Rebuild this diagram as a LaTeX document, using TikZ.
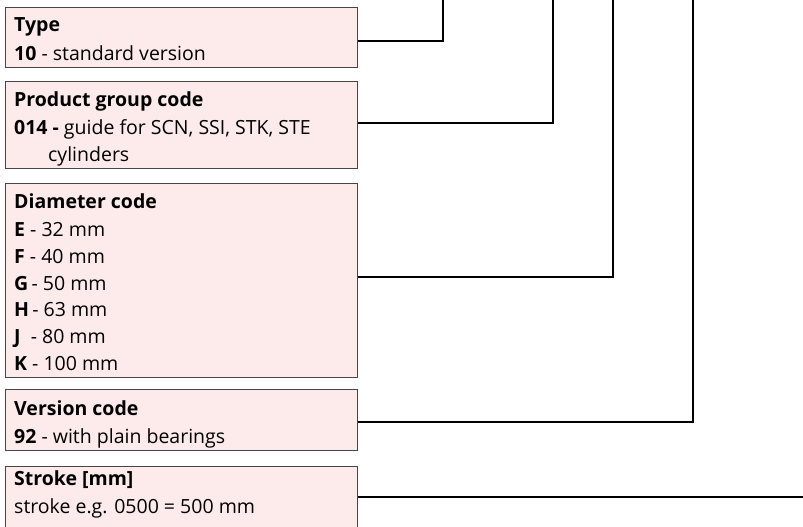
\documentclass[tikz,border=0pt]{standalone}
\usepackage{fontspec}
\setmainfont{Open Sans}
\definecolor{boxfill}{RGB}{253,234,234}
\definecolor{boxline}{RGB}{70,70,70}
\begin{document}
\begin{tikzpicture}[x=1pt,y=-1pt,
  box/.style={draw=boxline,line width=1pt,fill=boxfill,minimum width=352pt,inner sep=0pt},
  txt/.style={anchor=base west,inner sep=0pt,font=\fontsize{19.5}{24}\selectfont},
  conn/.style={draw=black,line width=2pt}]
\useasboundingbox (0,0) rectangle (803,527);
\node[box,minimum height=60pt] (b1) at (181,38) {};
\node[box,minimum height=87pt] (b2) at (181,124.5) {};
\node[box,minimum height=194pt] (b3) at (181,280) {};
\node[box,minimum height=61pt] (b4) at (181,419.5) {};
\node[box,minimum height=62pt] (b5) at (181,497) {};
% texts
\node[txt] (t11) at (14,32) {\textbf{Type}};
\node[txt] (t12) at (14,60) {\textbf{10} - standard version};
\node[txt] (t21) at (14,106) {\textbf{Product group code}};
\node[txt] (t22) at (14,134) {\textbf{014 -} guide for SCN, SSI, STK, STE};
\node[txt] (t23) at (48,161) {cylinders};
\node[txt] (t31) at (14,208) {\textbf{Diameter code}};
\node[txt] (t32) at (14,236) {\textbf{E} - 32 mm};
\node[txt] (t33) at (14,263) {\textbf{F} - 40 mm};
\node[txt] (t34) at (14,290) {\textbf{G}\,- 50 mm};
\node[txt] (t35) at (14,316) {\textbf{H}\,- 63 mm};
\node[txt] (t36) at (14,343) {\textbf{J}\ \ - 80 mm};
\node[txt] (t37) at (14,370) {\textbf{K} - 100 mm};
\node[txt] (t41) at (14,415) {\textbf{Version code}};
\node[txt] (t42) at (14,443) {\textbf{92} - with plain bearings};
\node[txt] (t51) at (14,485) {\textbf{Stroke [mm]}};
\node[txt] (t52) at (14,513) {stroke e.g. 0500 = 500 mm};
% connector ends
\coordinate (e1) at (443,0);
\coordinate (e2) at (553,0);
\coordinate (e3) at (613,0);
\coordinate (e4) at (693,0);
\coordinate (e5) at (803,497);
\draw[conn] ([yshift=-3pt]b1.east) -| (e1);
\draw[conn] ([yshift=1.5pt]b2.east) -| (e2);
\draw[conn] ([yshift=3pt]b3.east) -| (e3);
\draw[conn] ([yshift=-2.5pt]b4.east) -| (e4);
\draw[conn] (b5.east) -- (e5);
\end{tikzpicture}
\end{document}
